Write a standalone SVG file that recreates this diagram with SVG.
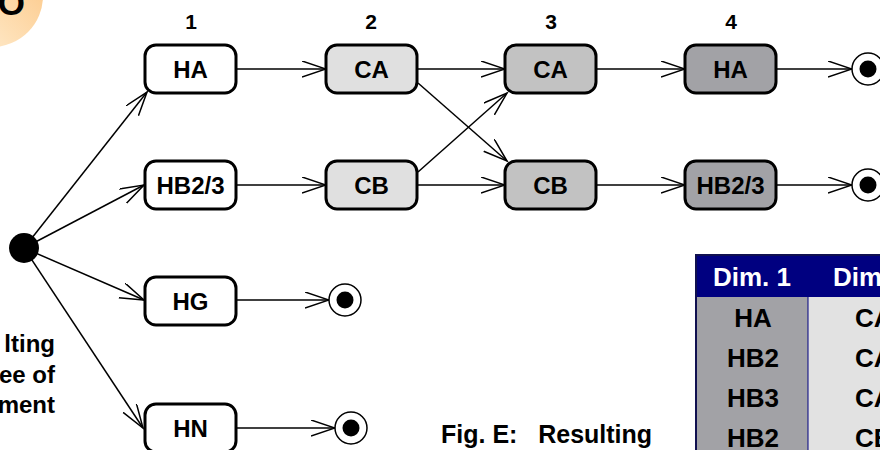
<svg xmlns="http://www.w3.org/2000/svg" width="880" height="450" viewBox="0 0 880 450">
<defs>
<linearGradient id="og" x1="0" y1="1" x2="1" y2="0">
<stop offset="0" stop-color="#fff3dc"/>
<stop offset="1" stop-color="#fcc27c"/>
</linearGradient>
<marker id="ah" markerUnits="userSpaceOnUse" markerWidth="26" markerHeight="18" refX="24" refY="8" orient="auto">
<path d="M0,0 L24,8 L0,16" fill="none" stroke="#000" stroke-width="1.5"/>
</marker>
</defs>
<style>
text{font-family:"Liberation Sans",Arial,sans-serif;font-weight:bold;}
.n rect{stroke:#000;stroke-width:3;}
.n text{font-size:24px;text-anchor:middle;fill:#000;}
.c1{fill:#fff}.c2{fill:#e0e0e0}.c3{fill:#c2c2c2}.c4{fill:#a2a2a6}
.cn line{stroke:#000;stroke-width:1.5;marker-end:url(#ah);}
.end circle.o{fill:#fff;stroke:#000;stroke-width:1.5}
.end circle.i{fill:#000}
.num{font-size:21px;text-anchor:middle}
.cap{font-size:25px}
.th{font-size:26px;fill:#fff;text-anchor:middle}
.td{font-size:26px;fill:#000;text-anchor:middle}
.tc{font-size:26px;fill:#000}
</style>
<rect width="880" height="450" fill="#fff"/>

<g id="badge">
<circle cx="-8" cy="-4" r="51" fill="url(#og)"/>
<text x="25" y="15" font-size="35" text-anchor="end">O</text>
</g>

<g id="colnums">
<text class="num" x="191" y="29">1</text>
<text class="num" x="371" y="29">2</text>
<text class="num" x="551" y="29">3</text>
<text class="num" x="731" y="29">4</text>
</g>

<g id="connectors" class="cn">
<line x1="24" y1="248" x2="147" y2="92"/>
<line x1="24" y1="248" x2="144" y2="185"/>
<line x1="24" y1="248" x2="144" y2="300"/>
<line x1="24" y1="248" x2="143" y2="428"/>
<line x1="237" y1="69" x2="326" y2="69"/>
<line x1="417" y1="69" x2="505" y2="69"/>
<line x1="596" y1="69" x2="685" y2="69"/>
<line x1="776" y1="69" x2="852" y2="69"/>
<line x1="237" y1="185" x2="326" y2="185"/>
<line x1="417" y1="185" x2="505" y2="185"/>
<line x1="596" y1="185" x2="685" y2="185"/>
<line x1="776" y1="185" x2="852" y2="185"/>
<line x1="418" y1="83" x2="507" y2="161"/>
<line x1="418" y1="172" x2="507" y2="93"/>
<line x1="237" y1="300" x2="329" y2="300"/>
<line x1="237" y1="428" x2="335" y2="428"/>
</g>

<g id="start"><circle cx="24" cy="248" r="15" fill="#000"/></g>

<g id="n-ha1" class="n"><rect class="c1" x="145" y="45" width="91" height="48" rx="11"/><text x="190.5" y="78">HA</text></g>
<g id="n-hb1" class="n"><rect class="c1" x="145" y="161" width="91" height="48" rx="11"/><text x="190.5" y="194">HB2/3</text></g>
<g id="n-hg" class="n"><rect class="c1" x="145" y="277" width="91" height="48" rx="11"/><text x="190.5" y="310">HG</text></g>
<g id="n-hn" class="n"><rect class="c1" x="145" y="404" width="91" height="48" rx="11"/><text x="190.5" y="437">HN</text></g>
<g id="n-ca2" class="n"><rect class="c2" x="326" y="45" width="91" height="48" rx="11"/><text x="371.5" y="78">CA</text></g>
<g id="n-cb2" class="n"><rect class="c2" x="326" y="161" width="91" height="48" rx="11"/><text x="371.5" y="194">CB</text></g>
<g id="n-ca3" class="n"><rect class="c3" x="505" y="45" width="91" height="48" rx="11"/><text x="550.5" y="78">CA</text></g>
<g id="n-cb3" class="n"><rect class="c3" x="505" y="161" width="91" height="48" rx="11"/><text x="550.5" y="194">CB</text></g>
<g id="n-ha4" class="n"><rect class="c4" x="685" y="45" width="91" height="48" rx="11"/><text x="730.5" y="78">HA</text></g>
<g id="n-hb4" class="n"><rect class="c4" x="685" y="161" width="91" height="48" rx="11"/><text x="730.5" y="194">HB2/3</text></g>

<g id="end1" class="end"><circle class="o" cx="868" cy="69" r="16"/><circle class="i" cx="868" cy="69" r="8.5"/></g>
<g id="end2" class="end"><circle class="o" cx="868" cy="185" r="16"/><circle class="i" cx="868" cy="185" r="8.5"/></g>
<g id="end3" class="end"><circle class="o" cx="345" cy="300" r="16"/><circle class="i" cx="345" cy="300" r="8.5"/></g>
<g id="end4" class="end"><circle class="o" cx="351" cy="428" r="16"/><circle class="i" cx="351" cy="428" r="8.5"/></g>

<g id="caption-left" font-size="24" text-anchor="end">
<text x="55" y="352">lting</text>
<text x="55" y="383">ee of</text>
<text x="55" y="413">ment</text>
</g>

<g id="caption"><text class="cap" x="441" y="443" xml:space="preserve">Fig. E:   Resulting</text></g>

<g id="table">
<rect x="696" y="296" width="112" height="160" fill="#a2a2a6"/>
<rect x="808" y="296" width="80" height="160" fill="#e2e2e2"/>
<rect x="696" y="255" width="192" height="42" fill="#000080"/>
<line x1="808" y1="296" x2="808" y2="456" stroke="#000080" stroke-width="1"/>
<rect x="696" y="255" width="192" height="200" fill="none" stroke="#101050" stroke-width="2"/>
<text class="th" x="752" y="286">Dim. 1</text>
<text x="833" y="286" font-size="26" fill="#fff">Dim</text>
<text class="td" x="753" y="327">HA</text>
<text class="td" x="753" y="367">HB2</text>
<text class="td" x="753" y="407">HB3</text>
<text class="td" x="753" y="447">HB2</text>
<text class="tc" x="855" y="327">CA</text>
<text class="tc" x="855" y="367">CA</text>
<text class="tc" x="855" y="407">CA</text>
<text class="tc" x="855" y="447">CB</text>
</g>
</svg>
